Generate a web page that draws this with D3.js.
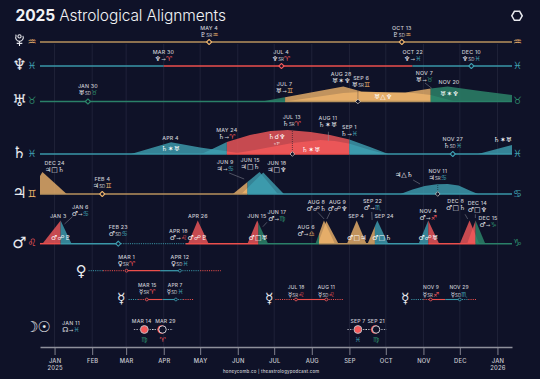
<!DOCTYPE html>
<html>
<head>
<meta charset="utf-8">
<script src="https://cdn.jsdelivr.net/npm/d3@7"></script>
<style>
  html, body { margin: 0; padding: 0; background: #0f1228; }
  svg { display: block; }
  text { font-family: Inter, "Noto Sans", sans-serif; }
  .glyph { font-family: "DejaVu Sans", sans-serif; }
</style>
</head>
<body>
<svg id="chart" width="540" height="379"></svg>
<script>
// all times are days counted from Jan 1 2025, strengths are 0 to 10 (exact aspect = 10)

const monthDays = [0, 31, 59, 90, 120, 151, 181, 212, 243, 273, 304, 334, 365];
const monthNames = ['JAN', 'FEB', 'MAR', 'APR', 'MAY', 'JUN', 'JUL', 'AUG', 'SEP', 'OCT', 'NOV', 'DEC', 'JAN'];
const yearNames = { 0: '2025', 12: '2026' };

const elementOfSign = {
  '♈': 'fire', '♌': 'fire', '♐': 'fire',
  '♉': 'earth', '♍': 'earth', '♑': 'earth',
  '♊': 'air', '♎': 'air', '♒': 'air',
  '♋': 'water', '♏': 'water', '♓': 'water'
};

// [from, to, sign, phase]
const plutoSigns = [[-12, 377, '♒']];
const neptuneSigns = [[-12, 90, '♓'], [90, 295, '♈'], [295, 377, '♓']];
const uranusSigns = [[-12, 190, '♉'], [190, 310, '♊'], [310, 377, '♉']];
const saturnSigns = [[-12, 142, '♓'], [142, 243, '♈'], [243, 377, '♓']];
const jupiterSigns = [[-12, 159, '♊'], [159, 377, '♋']];
const marsSigns = [
  [-12, 5, '♌'], [5, 53, '♋'], [53, 108, '♋', 'shadow'], [108, 168, '♌'], [168, 218, '♍'],
  [218, 264, '♎'], [264, 308, '♏'], [308, 347, '♐'], [347, 377, '♑']
];
const venusSigns = [
  [28, 40, '♓', 'shadow'], [40, 59, '♈', 'shadow'], [59, 87, '♈'], [87, 103.5, '♓'],
  [103.5, 120, '♓', 'shadow'], [120, 137, '♈', 'shadow']
];
const mercurySigns = [
  [61, 69, '♓', 'shadow'], [69, 76, '♈', 'shadow'], [76, 89, '♈'], [89, 100, '♓'],
  [100, 106, '♓', 'shadow'], [106, 115, '♈', 'shadow'],
  [182, 199, '♌', 'shadow'], [199, 224, '♌'], [224, 238, '♌', 'shadow'],
  [294, 304, '♏', 'shadow'], [304, 310, '♐', 'shadow'], [310, 322, '♐'], [322, 334, '♏'],
  [334, 341, '♏', 'shadow'], [341, 348, '♐', 'shadow']
];

// aspect humps, each a list of [day, strength]
const uranusAspects = [
  [[171, 0], [238, 6.25], [253, 4.2], [277, 3.75], [296, 3.5], [310, 2.7], [330, 0]],
  [[190, 0], [238, 3.5], [253, 4], [277, 3.75], [289, 3.75], [310, 5.4], [324, 6.25], [351, 4.4], [377, 2.7]]
];
const saturnAspects = [
  [[63, 0], [96, 4.9], [120, 2.7], [130, 2], [157, 0]],
  [[121, 0], [130, 2.1], [142, 5], [161, 7.9], [178, 9.6], [192, 10], [211, 9.2], [227, 7.9], [243, 6], [260, 2.9], [275, 0]],
  [[145, 0], [165, 1.7], [196, 4.6], [219, 5.8], [231, 5.4], [244, 4.2], [260, 1.7], [273, 0]],
  [[349, 0], [377, 3.75]]
];
const jupiterAspects = [
  [[-12, 7.5], [-10, 9.2], [10, 0]],
  [[147, 0], [169, 9.2], [184, 0]],
  [[154, 0], [172, 9], [189, 0]],
  [[285, 0], [295, 1.9], [305, 3.3], [315, 4.1], [324, 4.2], [333, 3.5], [343, 1.25], [349, 0]]
];
const marsAspects = [
  [[-10, 0], [5, 9.7], [14, 0]],
  [[110, 0], [118, 9.7], [127, 0]],
  [[159, 0], [167, 9.7], [176, 0]],
  [[215, 0], [222, 9.7], [231, 0]],
  [[217, 0], [224, 9.5], [234, 0]],
  [[241, 0], [249, 9.7], [257, 0]],
  [[258, 0], [266, 9.7], [275, 0]],
  [[300, 0], [308, 9.7], [317, 0]],
  [[334, 0], [342, 9.7], [350, 0]],
  [[340, 0], [347, 9.7], [355, 0]]
];

// stations and exact hits
const plutoMarks = [{ at: 127.4, kind: 'ring' }, { at: 286.2, kind: 'ring' }];
const neptuneMarks = [{ at: 187, kind: 'ring' }, { at: 343.5, kind: 'ring' }];
const uranusMarks = [{ at: 27.5, kind: 'ring' }, { at: 250, kind: 'exact' }];
const saturnMarks = [{ at: 196, kind: 'exact' }, { at: 328.2, kind: 'ring' }];
const jupiterMarks = [{ at: 39.3, kind: 'ring' }, { at: 315.8, kind: 'exact' }];
const marsMarks = [{ at: 52.5, kind: 'ring' }];
const venusMarks = [{ at: 59.3, kind: 'dot' }, { at: 103.3, kind: 'dot' }];
const mercuryMarks = [
  { at: 76, kind: 'dot' }, { at: 100, kind: 'dot' }, { at: 199, kind: 'dot' },
  { at: 224, kind: 'dot' }, { at: 310, kind: 'dot' }, { at: 334, kind: 'dot' }
];

const plutoLabels = [
  { at: 127.4, date: 'MAY 4', glyph: '♇ SR ♒' },
  { at: 286.2, date: 'OCT 13', glyph: '♇ SD ♒' }
];
const neptuneLabels = [
  { at: 89.8, date: 'MAR 30', glyph: '♆ → ♈' },
  { at: 186.7, date: 'JUL 4', glyph: '♆ SR ♈' },
  { at: 295.2, date: 'OCT 22', glyph: '♆ → ♓' },
  { at: 343.5, date: 'DEC 10', glyph: '♆ SD ♓' }
];
const uranusLabels = [
  { at: 27.5, date: 'JAN 30', glyph: '♅ SD ♉' },
  { at: 189.5, date: 'JUL 7', glyph: '♅ → ♊' },
  { at: 236.2, date: 'AUG 28', glyph: '♅ ✶ ♆' },
  { at: 252.6, date: 'SEP 6', glyph: '♅ SR ♊' },
  { at: 304.8, date: 'NOV 7', glyph: '♅ → ♉' },
  { at: 325.1, date: 'NOV 20' }
];
const saturnLabels = [
  { at: 95.6, date: 'APR 4' },
  { at: 142, date: 'MAY 24', glyph: '♄ → ♈' },
  { at: 195.5, date: 'JUL 13', glyph: '♄ SR ♈' },
  { at: 225.2, date: 'AUG 11', glyph: '♄ ✶ ♅' },
  { at: 243, date: 'SEP 1', glyph: '♄ → ♓' },
  { at: 328.2, date: 'NOV 27', glyph: '♄ SD ♓' }
];
const jupiterLabels = [
  { at: 0, date: 'DEC 24', glyph: '♃ □ ♄' },
  { at: 39.3, date: 'FEB 4', glyph: '♃ SD ♊' },
  { at: 140.6, date: 'JUN 9', glyph: '♃ → ♋' },
  { at: 161.2, date: 'JUN 15', glyph: '♃ □ ♄' },
  { at: 183.2, date: 'JUN 18', glyph: '♃ □ ♆' },
  { at: 315.8, date: 'NOV 11', glyph: '♃ SR ♋' }
];
const marsLabels = [
  { at: 3, date: 'JAN 3' },
  { at: 21.2, date: 'JAN 6', glyph: '♂ → ♋' },
  { at: 52.5, date: 'FEB 23', glyph: '♂ SD ♋' },
  { at: 102.1, date: 'APR 18', glyph: '♂ → ♌' },
  { at: 118.1, date: 'APR 26' },
  { at: 166.7, date: 'JUN 15' },
  { at: 183.2, date: 'JUN 17', glyph: '♂ → ♍' },
  { at: 207.3, date: 'AUG 6', glyph: '♂ → ♎' },
  { at: 215.8, date: 'AUG 8', glyph: '♂ ☍ ♄' },
  { at: 233.2, date: 'AUG 9', glyph: '♂ ☍ ♆' },
  { at: 248.5, date: 'SEP 4' },
  { at: 262, date: 'SEP 22', glyph: '♂ → ♏' },
  { at: 271.6, date: 'SEP 24' },
  { at: 308, date: 'NOV 4', glyph: '♂ → ♐' },
  { at: 330.6, date: 'DEC 8', glyph: '♂ □ ♄' },
  { at: 348.4, date: 'DEC 14', glyph: '♂ □ ♆' },
  { at: 357.3, date: 'DEC 15', glyph: '♂ → ♑' }
];
const venusLabels = [
  { at: 59.3, date: 'MAR 1', glyph: '♀ SR ♈' },
  { at: 103.3, date: 'APR 12', glyph: '♀ SD ♓' }
];
const mercuryLabels = [
  { at: 76.4, date: 'MAR 15', glyph: '☿ SR ♈' },
  { at: 99.4, date: 'APR 7', glyph: '☿ SD ♓' },
  { at: 199.1, date: 'JUL 18', glyph: '☿ SR ♌' },
  { at: 224, date: 'AUG 11', glyph: '☿ SD ♌' },
  { at: 310.3, date: 'NOV 9', glyph: '☿ SR ♐' },
  { at: 333.4, date: 'NOV 29', glyph: '☿ SD ♏' }
];
const lightsLabels = [{ at: 13.5, date: 'JAN 11', glyph: '☊ → ♓' }];

// the aspect names printed inside the humps
const uranusNotes = [{ at: 270.7, glyph: '♅ △ ♆' }, { at: 325.4, glyph: '♅ ✶ ♆' }];
const saturnNotes = [
  { at: 95.6, glyph: '♄ ✶ ♅' }, { at: 183.2, glyph: '♄ ☌ ♆' }, { at: 183.2, glyph: '<1°' },
  { at: 211.4, glyph: '♄ ✶ ♅' }, { at: 369.4, glyph: '♄ ✶ ♅' }
];
const jupiterNotes = [{ at: 288, glyph: '♃ △ ♄' }];
const marsNotes = [
  { at: 5.3, glyph: '♂ ☍ ♇' }, { at: 117.8, glyph: '♂ ☍ ♇' }, { at: 167.8, glyph: '♂ □ ♅' },
  { at: 249, glyph: '♂ □ ♃' }, { at: 269.7, glyph: '♂ □ ♄' }, { at: 308, glyph: '♂ ☍ ♅' }
];

const eclipses = [
  { at: 74, date: 'MAR 14', kind: 'lunar', sign: '♍' },
  { at: 89, date: 'MAR 29', kind: 'solar', sign: '♈' },
  { at: 250, date: 'SEP 7', kind: 'lunar', sign: '♓' },
  { at: 265, date: 'SEP 21', kind: 'solar', sign: '♍' }
];
const mercuryGlyphDays = [55, 177, 289];

// ---- layout, nothing below here is data

const width = 540, height = 379;
const bg = '#0f1228', ink = '#e8e9ee', soft = '#cbccd3';
const fillColor = { fire: '#f4595a', earth: '#2d8a6c', air: '#edb46c', water: '#3fa0b2' };
const lineColor = { fire: '#ec4f4c', earth: '#2a8068', air: '#b8925c', water: '#3a97a8' };
const AXIS_Y = 347;

// lift of the date line above the row baseline
const labelLift = {
  'pluto': 14.3, 'neptune': 13.7, 'venus': 13.7, 'lights': 6.5,
  'uranus|JAN 30': 15.2, 'uranus|JUL 7': 17.5, 'uranus|AUG 28': 27.8, 'uranus|SEP 6': 23.5,
  'uranus|NOV 7': 28.8, 'uranus|NOV 20': 19.5,
  'saturn|APR 4': 16, 'saturn|MAY 24': 24.3, 'saturn|JUL 13': 36.7, 'saturn|AUG 11': 35.7,
  'saturn|SEP 1': 27, 'saturn|NOV 27': 15,
  'jupiter|DEC 24': 30.7, 'jupiter|FEB 4': 15.3, 'jupiter|JUN 9': 32.3, 'jupiter|JUN 15': 34.3,
  'jupiter|JUN 18': 30.7, 'jupiter|NOV 11': 22.7,
  'mars|JAN 3': 28, 'mars|JAN 6': 37, 'mars|FEB 23': 16.7, 'mars|APR 18': 12.7, 'mars|APR 26': 28,
  'mars|JUN 15': 28, 'mars|JUN 17': 32, 'mars|AUG 6': 16.7, 'mars|AUG 8': 41.4, 'mars|AUG 9': 41.4,
  'mars|SEP 4': 28, 'mars|SEP 22': 42.4, 'mars|SEP 24': 28, 'mars|NOV 4': 33, 'mars|DEC 8': 42.4,
  'mars|DEC 14': 41, 'mars|DEC 15': 25.7,
  'mercury|MAR 15': 14.2, 'mercury|APR 7': 14.2, 'mercury|JUL 18': 11.8, 'mercury|AUG 11': 11.8,
  'mercury|NOV 9': 11.8, 'mercury|NOV 29': 11.8
};
const noteLift = {
  uranus: [5.2, 7.8], saturn: [5, 17, 10.7, 4.7, 14.7], jupiter: [19.7], mars: [5.7, 5.7, 5.7, 5.7, 5.7, 5.7]
};
// [fromDay, fromLift, toDay, toLift]
const leaders = {
  uranus: [[305.3, 18.5, 310.9, 13.2]],
  saturn: [[225.7, 22.3, 225.7, 13]],
  jupiter: [[143.9, 21, 156.3, 15], [295.5, 14, 301.2, 10]],
  mars: [
    [8.2, 19.7, 14.8, 27], [171.7, 17, 175, 21.4], [217, 31.4, 222.2, 24.7], [227.1, 31.4, 224.4, 24.7],
    [261.4, 31.7, 261.7, 23.7], [338.3, 29.4, 340.5, 24.7], [346.8, 29.4, 346.8, 25.7]
  ]
};
const drops = { uranus: [[250, 14]], saturn: [[196, 27]], jupiter: [[315.8, 11]] };

const rows = [
  { id: 'pluto', base: 42, planet: '♇', signs: plutoSigns, marks: plutoMarks, labels: plutoLabels },
  { id: 'neptune', base: 66, planet: '♆', signs: neptuneSigns, marks: neptuneMarks, labels: neptuneLabels },
  { id: 'uranus', base: 101.5, planet: '♅', signs: uranusSigns, aspects: uranusAspects, marks: uranusMarks, labels: uranusLabels, notes: uranusNotes },
  { id: 'saturn', base: 154, planet: '♄', signs: saturnSigns, aspects: saturnAspects, marks: saturnMarks, labels: saturnLabels, notes: saturnNotes },
  { id: 'jupiter', base: 194, planet: '♃', signs: jupiterSigns, aspects: jupiterAspects, marks: jupiterMarks, labels: jupiterLabels, notes: jupiterNotes },
  { id: 'mars', base: 243.7, planet: '♂', signs: marsSigns, aspects: marsAspects, marks: marsMarks, labels: marsLabels, notes: marsNotes }
];

const svg = d3.select('#chart');
svg.append('rect').attr('width', width).attr('height', height).attr('fill', bg);

const x = d3.scaleLinear().domain([-12, 377]).range([40, 512]);
const strength = d3.scaleLinear().domain([0, 10]).range([0, 24]);

const signColor = (s) => fillColor[elementOfSign[s]];
const segLineColor = (s) => lineColor[elementOfSign[s]];

// title and logo
const title = svg.append('text').attr('x', 15.5).attr('y', 21.3)
  .attr('font-size', 15.5).attr('fill', '#f2f2f5').attr('letter-spacing', -0.1);
title.append('tspan').attr('font-weight', 700).text('2025');
title.append('tspan').attr('font-weight', 300).text(' Astrological Alignments');

const hex = d3.range(6).map((i) => {
  const a = Math.PI / 3 * i;
  return [517 + 5.2 * Math.cos(a), 15.8 + 5.2 * Math.sin(a)];
});
svg.append('path').attr('d', d3.line()(hex) + 'Z')
  .attr('fill', 'none').attr('stroke', ink).attr('stroke-width', 1.5);

// month grid
svg.append('g').selectAll('line').data(monthDays).join('line')
  .attr('x1', (d) => x(d)).attr('x2', (d) => x(d))
  .attr('y1', 44).attr('y2', AXIS_Y)
  .attr('stroke', '#262a40').attr('stroke-width', 0.7);

function addGlyphText(sel, str) {
  const parts = str.split(' ');
  parts.forEach((p, i) => {
    const t = sel.append('tspan').text(p);
    if (i > 0) t.attr('dx', 0.2);
    if (p === 'SR' || p === 'SD') {
      t.attr('font-size', 4.4).attr('fill', soft).style('font-family', 'Inter, sans-serif');
    } else if (p === '→') {
      t.attr('font-size', 5.4).attr('fill', soft);
    } else if (elementOfSign[p]) {
      t.attr('fill', signColor(p));
    }
  });
}

function drawLabels(g, rowId, base, labels, fontSize) {
  (labels || []).forEach((d) => {
    const lift = labelLift[rowId + '|' + d.date] !== undefined ? labelLift[rowId + '|' + d.date] : labelLift[rowId];
    g.append('text').attr('x', x(d.at)).attr('y', base - lift).attr('dy', '0.36em')
      .attr('text-anchor', 'middle').attr('font-size', fontSize || 5.3).attr('font-weight', 500)
      .attr('letter-spacing', 0.2).attr('fill', soft).text(d.date);
    if (d.glyph) {
      const t = g.append('text').attr('class', 'glyph').attr('x', x(d.at)).attr('y', base - lift + 6.6)
        .attr('dy', '0.36em').attr('text-anchor', 'middle').attr('font-size', 6.9).attr('fill', ink);
      addGlyphText(t, d.glyph);
    }
  });
}

function drawLines(g, base, signs, thick) {
  const line = d3.line().x((d) => x(d)).y(base);
  g.selectAll(null).data(signs).join('path')
    .attr('d', (d) => line([d[0], d[1]]))
    .attr('fill', 'none')
    .attr('stroke', (d) => segLineColor(d[2]))
    .attr('stroke-width', (d) => d[3] === 'shadow' ? 1 : thick)
    .attr('stroke-dasharray', (d) => d[3] === 'shadow' ? '1.1 1.1' : null);
}

function drawMark(g, base, d, color) {
  if (d.kind === 'dot') {
    g.append('circle').attr('cx', x(d.at)).attr('cy', base).attr('r', 1.4)
      .attr('fill', bg).attr('stroke', color).attr('stroke-width', 0.8);
    return;
  }
  const exact = d.kind === 'exact';
  g.append('path').attr('d', d3.symbol(d3.symbolSquare2, exact ? 14 : 16)())
    .attr('transform', `translate(${x(d.at)},${base}) rotate(45)`)
    .attr('fill', bg)
    .attr('stroke', exact ? '#f1e9dc' : color)
    .attr('stroke-width', exact ? 0.6 : 1.1)
    .attr('stroke-linejoin', 'round');
}

function signAt(signs, day) {
  const s = signs.find((d) => day >= d[0] && day <= d[1]);
  return s ? s[2] : signs[0][2];
}

// the trident form of Pluto's symbol has no font here, so that one is drawn
function drawPlutoIcon(g, cx, cy) {
  const p = d3.path();
  p.moveTo(cx + 1.6, cy - 3.8);
  p.arc(cx, cy - 3.8, 1.6, 0, Math.PI * 2);
  p.moveTo(cx - 3.8, cy - 5.6);
  p.arc(cx, cy - 2.6, 3.8, Math.PI * 1.15, Math.PI * 1.85, true);
  p.moveTo(cx, cy + 1.2);
  p.lineTo(cx, cy + 5.8);
  p.moveTo(cx - 2.8, cy + 3.2);
  p.lineTo(cx + 2.8, cy + 3.2);
  g.append('path').attr('d', p.toString()).attr('fill', 'none')
    .attr('stroke', ink).attr('stroke-width', 1.1);
}

rows.forEach((row) => {
  const g = svg.append('g');

  // humps first, painted once per sign stretch so the colour follows the sign
  if (row.aspects) {
    const area = d3.area().x((d) => x(d[0])).y0(row.base).y1((d) => row.base - strength(d[1]));
    row.signs.forEach((seg, i) => {
      const clipId = `clip-${row.id}-${i}`;
      g.append('clipPath').attr('id', clipId).append('rect')
        .attr('x', x(seg[0])).attr('width', x(seg[1]) - x(seg[0]))
        .attr('y', row.base - 60).attr('height', 61);
      g.append('g').attr('clip-path', `url(#${clipId})`)
        .selectAll('path').data(row.aspects).join('path')
        .attr('d', area).attr('fill', signColor(seg[2])).attr('fill-opacity', 0.8);
    });
  }

  drawLines(g, row.base, row.signs, 1.5);

  // dashed drops from exact hits to their label
  g.selectAll(null).data(drops[row.id] || []).join('line')
    .attr('x1', (d) => x(d[0])).attr('x2', (d) => x(d[0]))
    .attr('y1', row.base).attr('y2', (d) => row.base - d[1])
    .attr('stroke', '#1a1c2e').attr('stroke-width', 0.6).attr('stroke-dasharray', '1 1');

  g.selectAll(null).data(leaders[row.id] || []).join('line')
    .attr('x1', (d) => x(d[0])).attr('x2', (d) => x(d[2]))
    .attr('y1', (d) => row.base - d[1]).attr('y2', (d) => row.base - d[3])
    .attr('stroke', '#8f919d').attr('stroke-width', 0.5);

  row.marks.forEach((d) => drawMark(g, row.base, d, signColor(signAt(row.signs, d.at))));

  drawLabels(g, row.id, row.base, row.labels);

  (row.notes || []).forEach((d, i) => {
    const lift = noteLift[row.id][i];
    const isOrb = d.glyph === '<1°';
    const t = g.append('text').attr('class', isOrb ? null : 'glyph')
      .attr('x', x(d.at)).attr('y', row.base - lift).attr('dy', '0.36em')
      .attr('text-anchor', 'middle').attr('font-size', isOrb ? 4 : 6.9).attr('fill', '#fff');
    if (isOrb) t.text(d.glyph); else addGlyphText(t, d.glyph);
  });

  // planet and sign names on both ends
  const first = row.signs[0][2], last = row.signs[row.signs.length - 1][2];
  if (row.id === 'pluto') {
    drawPlutoIcon(g, 19.5, row.base - 1.8);
  } else {
    g.append('text').attr('class', 'glyph').attr('x', 19.5).attr('y', row.base - 1.5).attr('dy', '0.36em')
      .attr('text-anchor', 'middle').attr('font-size', 16).attr('fill', ink).text(row.planet);
  }
  g.append('text').attr('class', 'glyph').attr('x', 32).attr('y', row.base - 1).attr('dy', '0.36em')
    .attr('text-anchor', 'middle').attr('font-size', 10).attr('fill', signColor(first)).text(first);
  g.append('text').attr('class', 'glyph').attr('x', 517.5).attr('y', row.base - 1).attr('dy', '0.36em')
    .attr('text-anchor', 'middle').attr('font-size', 10).attr('fill', signColor(last)).text(last);
});

// inner planets, retrograde stretches only
const venusY = 270.7, mercuryY = 299.5, lightsY = 329.5;
const venusG = svg.append('g');
drawLines(venusG, venusY, venusSigns, 1.3);
venusMarks.forEach((d) => drawMark(venusG, venusY, d, signColor(signAt(venusSigns, d.at))));
drawLabels(venusG, 'venus', venusY, venusLabels);
venusG.append('text').attr('class', 'glyph').attr('x', x(22)).attr('y', venusY - 0.5).attr('dy', '0.36em')
  .attr('text-anchor', 'middle').attr('font-size', 15).attr('fill', ink).text('♀');

const mercuryG = svg.append('g');
drawLines(mercuryG, mercuryY, mercurySigns, 1.1);
mercuryMarks.forEach((d) => drawMark(mercuryG, mercuryY, d, signColor(signAt(mercurySigns, d.at))));
drawLabels(mercuryG, 'mercury', mercuryY, mercuryLabels, 4.9);
mercuryGlyphDays.forEach((d) => {
  mercuryG.append('text').attr('class', 'glyph').attr('x', x(d)).attr('y', mercuryY - 1.5).attr('dy', '0.36em')
    .attr('text-anchor', 'middle').attr('font-size', 14).attr('fill', ink).text('☿');
});

// sun and moon row
const lightsG = svg.append('g');
lightsG.append('text').attr('class', 'glyph').attr('x', 32).attr('y', lightsY - 3).attr('dy', '0.36em')
  .attr('text-anchor', 'middle').attr('font-size', 15).attr('fill', ink).text('☽');
lightsG.append('text').attr('class', 'glyph').attr('x', 44.3).attr('y', lightsY - 3).attr('dy', '0.36em')
  .attr('text-anchor', 'middle').attr('font-size', 15).attr('fill', ink).text('☉');
drawLabels(lightsG, 'lights', lightsY, lightsLabels);

const eclipseDateNudge = { 'MAR 14': -2.7, 'MAR 29': 2.9, 'SEP 7': 0, 'SEP 21': 0 };
eclipses.forEach((d) => {
  const cx = x(d.at);
  lightsG.append('line').attr('x1', cx - 10.5).attr('x2', cx + 10.5).attr('y1', lightsY).attr('y2', lightsY)
    .attr('stroke', ink).attr('stroke-width', 0.7).attr('stroke-dasharray', '1.4 1.2');
  lightsG.append('circle').attr('cx', cx).attr('cy', lightsY).attr('r', 5).attr('fill', bg);
  if (d.kind === 'lunar') {
    lightsG.append('circle').attr('cx', cx).attr('cy', lightsY).attr('r', 3.9)
      .attr('fill', '#f4595a').attr('stroke', '#b9bac2').attr('stroke-width', 1);
  } else {
    lightsG.append('circle').attr('cx', cx - 0.9).attr('cy', lightsY).attr('r', 4.3).attr('fill', '#f4595a');
    lightsG.append('circle').attr('cx', cx).attr('cy', lightsY).attr('r', 3.7)
      .attr('fill', bg).attr('stroke', '#f2f2f5').attr('stroke-width', 0.8);
  }
  lightsG.append('text').attr('x', cx + eclipseDateNudge[d.date]).attr('y', lightsY - 8.2).attr('dy', '0.36em')
    .attr('text-anchor', 'middle').attr('font-size', 5.1).attr('font-weight', 500)
    .attr('letter-spacing', 0.2).attr('fill', soft).text(d.date);
  lightsG.append('text').attr('class', 'glyph').attr('x', cx).attr('y', lightsY + 9.5).attr('dy', '0.36em')
    .attr('text-anchor', 'middle').attr('font-size', 7).attr('fill', signColor(d.sign)).text(d.sign);
});

// month axis
const axis = svg.append('g').attr('transform', `translate(0,${AXIS_Y})`)
  .call(d3.axisBottom(x).tickValues(monthDays).tickSize(8).tickSizeOuter(0).tickPadding(3.5)
    .tickFormat((d, i) => monthNames[i]));
axis.select('.domain').attr('stroke', '#8e909b').attr('stroke-width', 1.4);
axis.selectAll('.tick line').attr('stroke', '#8e909b').attr('stroke-width', 0.9);
axis.selectAll('.tick text')
  .attr('font-family', 'Inter, sans-serif').attr('font-size', 5.8).attr('font-weight', 500)
  .attr('fill', soft).attr('letter-spacing', 0.2)
  .each(function (d, i) {
    if (yearNames[i]) {
      d3.select(this).append('tspan').attr('x', 0).attr('dy', '1.25em').text(yearNames[i]);
    }
  });

svg.append('text').attr('x', 223).attr('y', 372.5)
  .attr('font-size', 4.4).attr('font-weight', 500).attr('fill', soft).attr('letter-spacing', 0.2)
  .text('honeycomb.co  |  theastrologypodcast.com');
</script>
</body>
</html>
